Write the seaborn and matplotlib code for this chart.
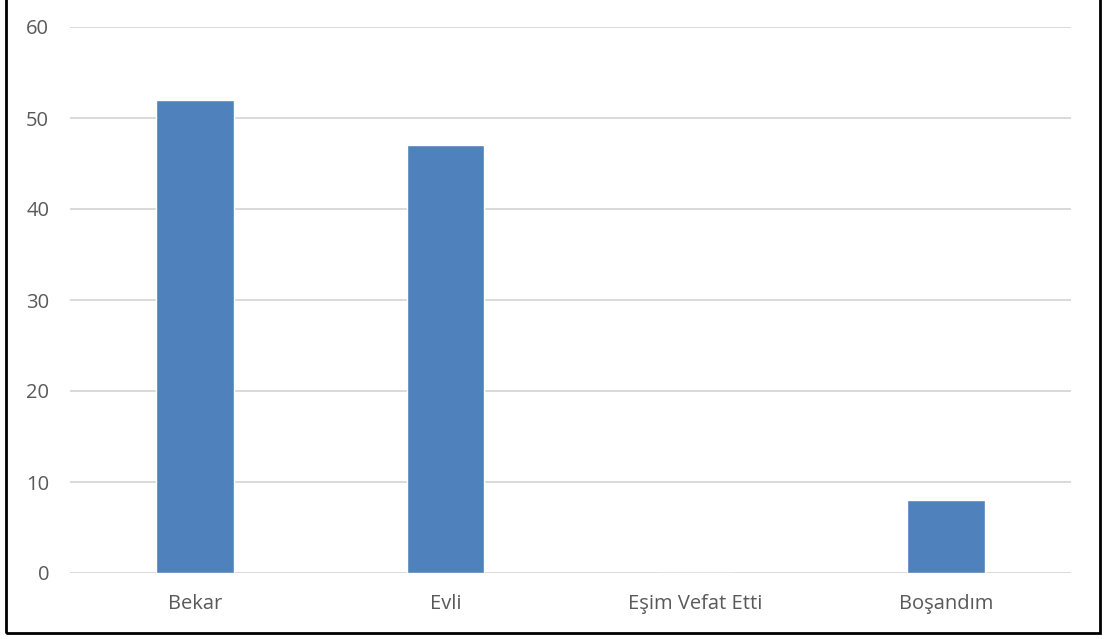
import matplotlib
matplotlib.use("Agg")
import matplotlib.pyplot as plt
import seaborn as sns
import pandas as pd
from matplotlib.patches import Rectangle

categories = ["Bekar", "Evli", "Eşim Vefat Etti", "Boşandım"]
values = [52, 47, 0, 8]
yticks = [0, 10, 20, 30, 40, 50, 60]

sns.set_style("white")
plt.rcParams["font.family"] = ["Open Sans", "DejaVu Sans"]

df = pd.DataFrame({"durum": categories, "sayi": values})

fig = plt.figure(figsize=(11.06, 6.39), dpi=100)
ax = fig.add_axes([70 / 1106, 66 / 639, 1001 / 1106, 546 / 639])

sns.barplot(data=df, x="durum", y="sayi", color="#4F81BD", saturation=1,
            width=0.31, ax=ax, zorder=3)

ax.set_ylim(0, 60)
ax.set_yticks(yticks)
ax.set_xlim(-0.5, len(categories) - 0.5)
ax.yaxis.grid(True, color="#D9D9D9", linewidth=1.4, zorder=0)
ax.set_axisbelow(True)
ax.set_xlabel("")
ax.set_ylabel("")
for s in ax.spines.values():
    s.set_visible(False)
ax.tick_params(axis="both", length=0, labelsize=14.5, labelcolor="#595959")
ax.tick_params(axis="y", pad=15)
ax.tick_params(axis="x", pad=15)

# outer frame around the chart area
fig.patches.append(Rectangle((6 / 1106, 6 / 639), 1094 / 1106, 640 / 639,
                             transform=fig.transFigure, fill=False,
                             edgecolor="black", linewidth=2, figure=fig))

fig.savefig("out.png", dpi=100)
